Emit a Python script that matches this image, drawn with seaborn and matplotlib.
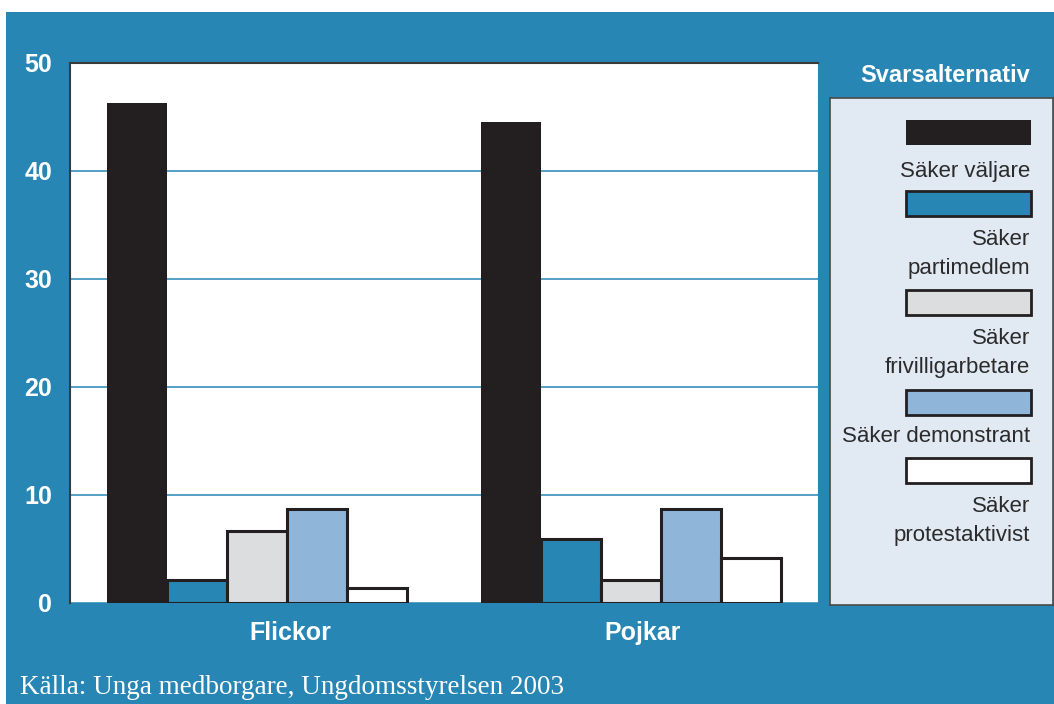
import matplotlib
matplotlib.use("Agg")
import matplotlib.pyplot as plt
from matplotlib.patches import Rectangle
import matplotlib.font_manager as fm
import numpy as np
import pandas as pd
import seaborn as sns

# data
groups = ["Flickor", "Pojkar"]
alternatives = ["Säker väljare", "Säker partimedlem", "Säker frivilligarbetare",
                "Säker demonstrant", "Säker protestaktivist"]
legend_labels = ["Säker väljare", "Säker\npartimedlem", "Säker\nfrivilligarbetare",
                 "Säker demonstrant", "Säker\nprotestaktivist"]
flickor = [46.3, 2.1, 6.7, 8.7, 1.4]
pojkar = [44.5, 5.9, 2.1, 8.7, 4.2]
y_ticks = [0, 10, 20, 30, 40, 50]

BG = "#2886b4"
colors = ["#231f20", "#2886b4", "#dcdddf", "#8fb6d8", "#ffffff"]
EDGE = "#231f20"

names = {f.name for f in fm.fontManager.ttflist}
sans = "Liberation Sans" if "Liberation Sans" in names else "DejaVu Sans"
serif = "Liberation Serif" if "Liberation Serif" in names else "DejaVu Serif"

df = pd.DataFrame({
    "grupp": np.repeat(groups, len(alternatives)),
    "alternativ": alternatives * len(groups),
    "andel": flickor + pojkar,
})

sns.set_style("white")
plt.rcParams["font.family"] = [sans, "DejaVu Sans"]

W, H = 1054, 704
fig = plt.figure(figsize=(W / 100, H / 100), dpi=100, facecolor="white")
fig.patches.append(Rectangle((6 / W, 0), 1, 1 - 12 / H, transform=fig.transFigure,
                             facecolor=BG, edgecolor="none", zorder=-10))

def px_axes(x0, y0, x1, y1):
    return fig.add_axes([x0 / W, 1 - y1 / H, (x1 - x0) / W, (y1 - y0) / H])

ax = px_axes(70, 63, 818, 603)
sns.barplot(data=df, x="grupp", y="andel", hue="alternativ", hue_order=alternatives,
            palette=colors, width=0.8, edgecolor=EDGE, linewidth=2.2,
            saturation=1, legend=False, ax=ax)
for p in ax.patches:
    if np.allclose(p.get_facecolor()[:3], matplotlib.colors.to_rgb(colors[0])):
        p.set_linewidth(0)

ax.set_facecolor("white")
ax.set_xlim(-0.5, 1.5)
ax.set_ylim(0, 50)
ax.set_yticks(y_ticks)
# group labels sit a little right of the group centres in the original
ax.set_xticks([0.09, 1.03], groups)
ax.yaxis.grid(True, color=BG, linewidth=1.1)
ax.set_axisbelow(True)
ax.set_xlabel("")
ax.set_ylabel("")
ax.tick_params(axis="both", length=0, colors="white", labelsize=18)
ax.tick_params(axis="x", pad=13)
ax.tick_params(axis="y", pad=13)
for lab in ax.get_xticklabels() + ax.get_yticklabels():
    lab.set_fontweight("bold")
for side in ["left", "top"]:
    ax.spines[side].set_color("#3a3a3a")
    ax.spines[side].set_linewidth(1.5)
ax.spines["right"].set_color(BG)
ax.spines["bottom"].set_visible(False)

# legend drawn in its own panel, patch above label as in the original
lax = px_axes(830, 98, 1053, 605)
lax.set_xlim(830, 1053)
lax.set_ylim(605, 98)
lax.set_facecolor("#e1e9f3")
lax.set_xticks([])
lax.set_yticks([])
for s in lax.spines.values():
    s.set_color("#4a4a4a")
    s.set_linewidth(1.2)

patch_y = [120, 191, 290, 390, 458]
label_y = [172, 254, 353, 437, 521]
for col, py, ly, lab in zip(colors, patch_y, label_y, legend_labels):
    lax.add_patch(Rectangle((906, py), 125, 25, facecolor=col,
                            edgecolor=EDGE, linewidth=0 if col == colors[0] else 2))
    lax.text(1030, ly, lab, ha="right", va="center", fontsize=16,
             color="#2b2b2b", linespacing=1.5)

fig.text(1030 / W, 1 - 76 / H, "Svarsalternativ", ha="right", va="center",
         fontsize=17, fontweight="bold", color="white")
fig.text(20 / W, 1 - 688 / H, "Källa: Unga medborgare, Ungdomsstyrelsen 2003",
         ha="left", va="center", fontsize=19.5, color="white",
         family=[serif, "DejaVu Serif"])

fig.savefig("out.png", dpi=100)
